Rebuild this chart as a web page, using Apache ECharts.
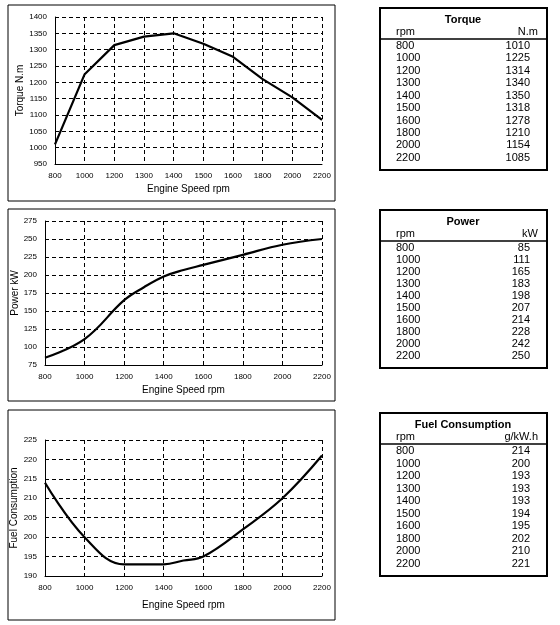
<!DOCTYPE html>
<html><head><meta charset="utf-8">
<script src="https://cdn.jsdelivr.net/npm/echarts@6/dist/echarts.min.js"></script>
<style>html,body{margin:0;background:#fff}#c{width:560px;height:625px}</style>
</head><body><div id="c"></div>
<script>
const rpm = [800, 1000, 1200, 1300, 1400, 1500, 1600, 1800, 2000, 2200]
const torque = [1010, 1225, 1314, 1340, 1350, 1318, 1278, 1210, 1154, 1085]
const power = [85, 111, 165, 183, 198, 207, 214, 228, 242, 250]
const fuel = [214, 200, 193, 193, 193, 194, 195, 202, 210, 221]
const tables = [
  { title: 'Torque', unit: 'N.m', values: torque, top: 8, bottom: 170 },
  { title: 'Power', unit: 'kW', values: power, top: 210, bottom: 368 },
  { title: 'Fuel Consumption', unit: 'g/kW.h', values: fuel, top: 413, bottom: 576 }
]

const font = 'Liberation Sans, Arial, sans-serif'
const grids = [
  { left: 55, top: 17, width: 267, height: 147 },
  { left: 45, top: 221, width: 277, height: 144 },
  { left: 45, top: 440, width: 277, height: 136 }
]
const split = { show: true, lineStyle: { color: '#000', type: [4, 3], width: 1 } }
const lab = { fontSize: 8, color: '#000', fontFamily: font, formatter: v => String(v) }
const axisLine = { show: true, lineStyle: { color: '#000' } }
const nameStyle = { fontSize: 10, color: '#000', fontFamily: font }

const xAxis = [
  { gridIndex: 0, type: 'category', boundaryGap: false, data: rpm.map(String),
    axisLine, axisTick: { show: false }, axisLabel: lab, splitLine: split,
    name: 'Engine Speed rpm', nameLocation: 'middle', nameGap: 20, nameTextStyle: nameStyle },
  { gridIndex: 1, type: 'value', min: 800, max: 2200, interval: 200,
    axisLine, axisTick: { show: false }, axisLabel: lab, splitLine: split,
    name: 'Engine Speed rpm', nameLocation: 'middle', nameGap: 20, nameTextStyle: nameStyle },
  { gridIndex: 2, type: 'value', min: 800, max: 2200, interval: 200,
    axisLine, axisTick: { show: false }, axisLabel: lab, splitLine: split,
    name: 'Engine Speed rpm', nameLocation: 'middle', nameGap: 24, nameTextStyle: nameStyle }
]
const yAxis = [
  { gridIndex: 0, type: 'value', min: 950, max: 1400, interval: 50, name: 'Torque N.m', nameGap: 28 },
  { gridIndex: 1, type: 'value', min: 75, max: 275, interval: 25, name: 'Power kW', nameGap: 24 },
  { gridIndex: 2, type: 'value', min: 190, max: 225, interval: 5, name: 'Fuel Consumption', nameGap: 26 }
].map(a => Object.assign(a, {
  axisLine, axisTick: { show: false }, axisLabel: lab, splitLine: split,
  nameLocation: 'middle', nameTextStyle: nameStyle
}))

const line = { type: 'line', symbol: 'none', lineStyle: { color: '#000', width: 2.2 } }
const series = [
  Object.assign({ xAxisIndex: 0, yAxisIndex: 0, data: torque }, line),
  Object.assign({ xAxisIndex: 1, yAxisIndex: 1, smooth: 0.4, data: rpm.map((r, i) => [r, power[i]]) }, line),
  Object.assign({ xAxisIndex: 2, yAxisIndex: 2, smooth: 0.4, data: rpm.map((r, i) => [r, fuel[i]]) }, line)
]

const graphic = [
  { type: 'rect', shape: { x: 8, y: 5, width: 327, height: 196 }, style: { fill: 'none', stroke: '#000', lineWidth: 1 } },
  { type: 'rect', shape: { x: 8, y: 209, width: 327, height: 192 }, style: { fill: 'none', stroke: '#000', lineWidth: 1 } },
  { type: 'rect', shape: { x: 8, y: 410, width: 327, height: 210 }, style: { fill: 'none', stroke: '#000', lineWidth: 1 } }
]
tables.forEach(t => {
  graphic.push({ type: 'rect', shape: { x: 380, y: t.top, width: 167, height: t.bottom - t.top },
    style: { fill: 'none', stroke: '#000', lineWidth: 2 } })
  graphic.push({ type: 'text', x: 463, y: t.top + 12, style: { text: t.title, font: 'bold 11px ' + font, fill: '#000', textAlign: 'center', textVerticalAlign: 'middle' } })
  graphic.push({ type: 'text', x: 396, y: t.top + 24, style: { text: 'rpm', font: '11px ' + font, fill: '#000', textVerticalAlign: 'middle' } })
  graphic.push({ type: 'text', x: 538, y: t.top + 24, style: { text: t.unit, font: '11px ' + font, fill: '#000', textAlign: 'right', textVerticalAlign: 'middle' } })
  graphic.push({ type: 'line', shape: { x1: 380, y1: t.top + 31, x2: 547, y2: t.top + 31 }, style: { stroke: '#000', lineWidth: 1.5 } })
  const step = (t.bottom - t.top - 44) / 9.5
  rpm.forEach((r, i) => {
    const y = t.top + 38 + i * step
    graphic.push({ type: 'text', x: 396, y, style: { text: String(r), font: '11px ' + font, fill: '#000', textVerticalAlign: 'middle' } })
    graphic.push({ type: 'text', x: 530, y, style: { text: String(t.values[i]), font: '11px ' + font, fill: '#000', textAlign: 'right', textVerticalAlign: 'middle' } })
  })
})

const chart = echarts.init(document.getElementById('c'))
chart.setOption({ animation: false, grid: grids, xAxis, yAxis, series, graphic })
</script></body></html>
